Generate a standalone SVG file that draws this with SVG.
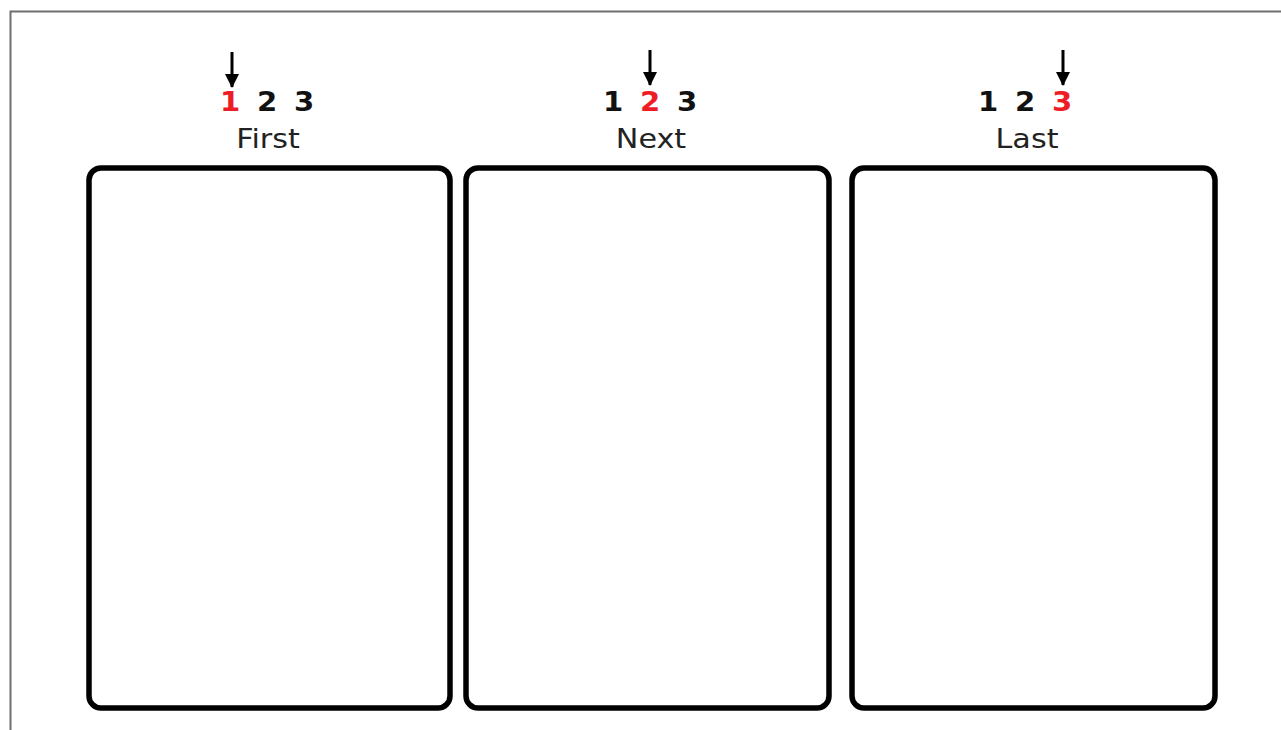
<svg xmlns="http://www.w3.org/2000/svg" width="1281" height="730" viewBox="0 0 1281 730">
  <style>
    .frame { fill: none; stroke: #6e6e6e; stroke-width: 2; }
    .panel { fill: #fff; stroke: #000; stroke-width: 5.5; }
    .num { font-family: "DejaVu Sans", Verdana, sans-serif; font-weight: bold; font-size: 26px; fill: #111; text-anchor: middle; }
    .hi { fill: #ee1c24; }
    .label { font-family: "DejaVu Sans", Verdana, sans-serif; font-size: 27px; fill: #222; text-anchor: middle; }
    .arrow { stroke: #000; stroke-width: 3; fill: none; marker-end: url(#head); }
  </style>
  <defs>
    <marker id="head" viewBox="0 0 14 14" refX="13" refY="7" markerWidth="14" markerHeight="14" markerUnits="userSpaceOnUse" orient="auto">
      <path d="M0,0 L14,7 L0,14 Z" fill="#000"/>
    </marker>
  </defs>
  <rect width="1281" height="730" fill="#fff"/>
  <path class="frame" d="M10.5,730 V11.5 H1281"/>

  <g id="panel-first">
    <rect class="panel" x="89" y="168" width="361" height="540" rx="12"/>
    <text class="num hi" transform="translate(230,111) scale(1.12,1)">1</text>
    <text class="num" transform="translate(267,111) scale(1.12,1)">2</text>
    <text class="num" transform="translate(304,111) scale(1.12,1)">3</text>
    <text class="label" transform="translate(268,148) scale(1.12,1)">First</text>
  </g>
  <g id="panel-next">
    <rect class="panel" x="466" y="168" width="363" height="540" rx="12"/>
    <text class="num" transform="translate(613,111) scale(1.12,1)">1</text>
    <text class="num hi" transform="translate(650,111) scale(1.12,1)">2</text>
    <text class="num" transform="translate(687,111) scale(1.12,1)">3</text>
    <text class="label" transform="translate(651,148) scale(1.12,1)">Next</text>
  </g>
  <g id="panel-last">
    <rect class="panel" x="852" y="168" width="363" height="540" rx="12"/>
    <text class="num" transform="translate(988,111) scale(1.12,1)">1</text>
    <text class="num" transform="translate(1025,111) scale(1.12,1)">2</text>
    <text class="num hi" transform="translate(1062,111) scale(1.12,1)">3</text>
    <text class="label" transform="translate(1027,148) scale(1.12,1)">Last</text>
  </g>

  <g id="connectors">
    <line class="arrow" x1="232" y1="52" x2="232" y2="87"/>
    <line class="arrow" x1="650" y1="50" x2="650" y2="85"/>
    <line class="arrow" x1="1063" y1="50" x2="1063" y2="85"/>
  </g>
</svg>
